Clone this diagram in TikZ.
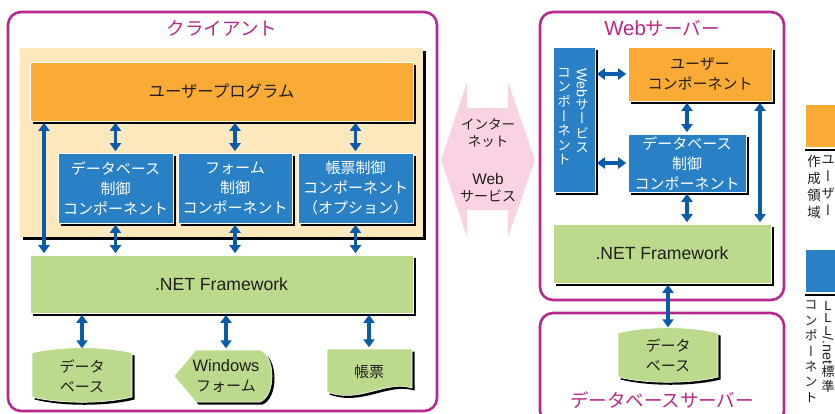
\documentclass[tikz,border=0pt]{standalone}
\usepackage{fontspec}
\setmainfont{Noto Sans CJK JP}
\newfontfamily\latf[Scale=1.1]{Liberation Sans}
\newfontfamily\vjp[RawFeature=+vert]{Noto Sans CJK JP}
\usetikzlibrary{arrows.meta,shadows}
\definecolor{zonec}{RGB}{182,40,140}
\definecolor{areac}{RGB}{253,231,189}
\definecolor{userc}{RGB}{249,171,53}
\definecolor{stdc}{RGB}{42,128,197}
\definecolor{fwc}{RGB}{187,218,140}
\definecolor{arrowc}{RGB}{10,92,171}
\definecolor{netc}{RGB}{249,211,227}
\definecolor{ink}{RGB}{35,30,30}
\newcommand{\lat}[1]{{\latf #1}}

\begin{document}
\begin{tikzpicture}[x=1pt,y=-1pt,
  zone/.style={draw=zonec,line width=2.6pt,rounded corners=13pt},
  zonetitle/.style={text=zonec,inner sep=0pt,font=\fontsize{18.5}{20}\selectfont},
  boxshadow/.style={drop shadow={shadow xshift=2.5pt,shadow yshift=-2.5pt,fill=black,opacity=1}},
  block/.style={boxshadow,draw=white,line width=0.6pt,inner sep=0pt,align=center,text=ink,font=\fontsize{15}{20}\selectfont},
  userblk/.style={block,fill=userc},
  stdblk/.style={block,fill=stdc,text=white},
  fwblk/.style={block,fill=fwc,font=\latf\fontsize{16}{20}\selectfont},
  shapetxt/.style={inner sep=0pt,align=center,text=ink,font=\fontsize{15}{20}\selectfont},
  vcol/.style={inner sep=0pt,anchor=north,align=center,font=\vjp\fontsize{13.5}{14.6}\selectfont},
  vlat/.style={inner sep=0pt,rotate=-90,anchor=west,font=\latf\fontsize{13}{14}\selectfont},
  dbl/.style={draw=arrowc,line width=3.4pt,arrows={Triangle[width=11pt,length=8pt]-Triangle[width=11pt,length=8pt]},shorten <=1.5pt,shorten >=1.5pt}]
\clip (0,0) rectangle (835,413);
\fill[white] (0,0) rectangle (835,413);

% client
\draw[zone] (8,12) rectangle (437,411);
\node[zonetitle] (cltitle) at (222,28) {クライアント};
\fill[areac,boxshadow] (20,48) rectangle (423,237);
\node[userblk,minimum width=383,minimum height=59,font=\fontsize{16.4}{20}\selectfont] (userprog) at (221.5,91.5) {ユーザープログラム};
\node[stdblk,minimum width=115,minimum height=70] (dbctrl) at (115.5,188) {データベース\\制御\\コンポーネント};
\node[stdblk,minimum width=114,minimum height=70] (formctrl) at (235,188) {フォーム\\制御\\コンポーネント};
\node[stdblk,minimum width=115,minimum height=70] (rptctrl) at (355.5,188) {帳票制御\\コンポーネント\\（オプション）};
\node[fwblk,minimum width=383,minimum height=58] (net) at (221.5,284) {.NET Framework};

\coordinate (cl) at (44,0);
\draw[dbl] (cl |- userprog.south) -- (cl |- net.north);
\foreach \c in {dbctrl,formctrl,rptctrl}{
  \draw[dbl] (\c.north) -- (\c.north |- userprog.south);
  \draw[dbl] (\c.south) -- (\c.south |- net.north);
}

% data stores of the client
\path[boxshadow,fill=fwc,draw=white,line width=0.6pt] (32,353) .. controls (60,346) and (104,346) .. (132,353) -- (132,397) .. controls (104,404) and (60,404) .. (32,397) -- cycle;
\node[shapetxt,minimum height=52] (db) at (82,376) {データ\\ベース};
\path[boxshadow,fill=fwc,draw=white,line width=0.6pt] (196,350) -- (260,350) .. controls (276,356) and (276,396) .. (260,402) -- (196,402) -- (174,376) -- cycle;
\node[shapetxt,minimum height=52] (winform) at (226,376) {\lat{Windows}\\フォーム};
\path[boxshadow,fill=fwc,draw=white,line width=0.6pt] (327,349) -- (412,349) -- (412,388) .. controls (385,380) and (360,404) .. (327,392) -- cycle;
\node[shapetxt,minimum height=46] (report) at (369,372) {帳票};
\foreach \c in {db,winform,report}
  \draw[dbl] (\c.north) -- (\c.north |- net.south);

% internet
\fill[netc] (467,82) -- (467,108) -- (508,108) -- (508,82) -- (535,160) -- (508,237) -- (508,210) -- (467,210) -- (467,237) -- (441,160) -- cycle;
\node[shapetxt,font=\fontsize{13.5}{17}\selectfont] (inet) at (488,133) {インター\\ネット};
\node[shapetxt,font=\fontsize{14}{17}\selectfont] (wsv) at (488,188) {\lat{Web}\\サービス};

% web server
\draw[zone] (540,12) rectangle (784,300);
\node[zonetitle] (wstitle) at (662,28) {\lat{Web}サーバー};
\node[stdblk,minimum width=42,minimum height=145] (wsvc) at (574,119.5) {};
\node[vlat,text=white] (wsvcW) at (582,68) {Web};
\node[vcol,text=white] (wsvcR) at ([yshift=-1pt]wsvcW.east) {サ\\ー\\ビ\\ス};
\node[vcol,text=white] (wsvcL) at (564,68) {コ\\ン\\ポ\\ー\\ネ\\ン\\ト};
\node[userblk,minimum width=144,minimum height=54] (usercomp) at (700,74) {ユーザー\\コンポーネント};
\node[stdblk,minimum width=118,minimum height=58] (dbctrl2) at (687,163) {データベース\\制御\\コンポーネント};
\node[fwblk,minimum width=218,minimum height=59] (net2) at (662,253.5) {.NET Framework};
\coordinate (wr) at (760,0);
\draw[dbl] (wsvc.east |- usercomp.west) -- (usercomp.west);
\draw[dbl] (wsvc.east |- dbctrl2.west) -- (dbctrl2.west);
\draw[dbl] (dbctrl2.north) -- (dbctrl2.north |- usercomp.south);
\draw[dbl] (dbctrl2.south) -- (dbctrl2.south |- net2.north);
\draw[dbl] (wr |- usercomp.south) -- (wr |- net2.north);

% database server
\draw[zone] (540,313) rectangle (784,424);
\node[zonetitle] (dbtitle) at (662,400) {データベースサーバー};
\path[boxshadow,fill=fwc,draw=white,line width=0.6pt] (618,333) .. controls (646,326) and (690,326) .. (718,333) -- (718,377) .. controls (690,384) and (646,384) .. (618,377) -- cycle;
\node[shapetxt,minimum height=52] (db2) at (668,355) {データ\\ベース};
\draw[dbl] (db2.north) -- (db2.north |- net2.south);

% legend
\fill[userc] (806,105) rectangle (845,147);
\draw[line width=2.5pt] (805,150) -- (845,150);
\node[vcol,text=ink,font=\vjp\fontsize{13.5}{17}\selectfont] (lgUa) at (828,155) {ユ\\ー\\ザ\\ー};
\node[vcol,text=ink,font=\vjp\fontsize{13.5}{17}\selectfont] (lgUb) at (814,155) {作\\成\\領\\域};
\fill[stdc] (806,250) rectangle (845,292);
\draw[line width=2.5pt] (805,295) -- (845,295);
\node[vcol,text=ink,font=\latf\fontsize{12}{12.5}\selectfont] (lgSa) at (828,301) {L\\L\\L};
\node[vlat,text=ink] (lgSn) at ([yshift=-1pt]lgSa.south) {/.net};
\node[vcol,text=ink,font=\vjp\fontsize{13}{15}\selectfont] (lgSk) at ([yshift=-1pt]lgSn.east) {標\\準};
\node[vcol,text=ink,font=\vjp\fontsize{13}{15.4}\selectfont] (lgSb) at (811,301) {コ\\ン\\ポ\\ー\\ネ\\ン\\ト};
\end{tikzpicture}
\end{document}
